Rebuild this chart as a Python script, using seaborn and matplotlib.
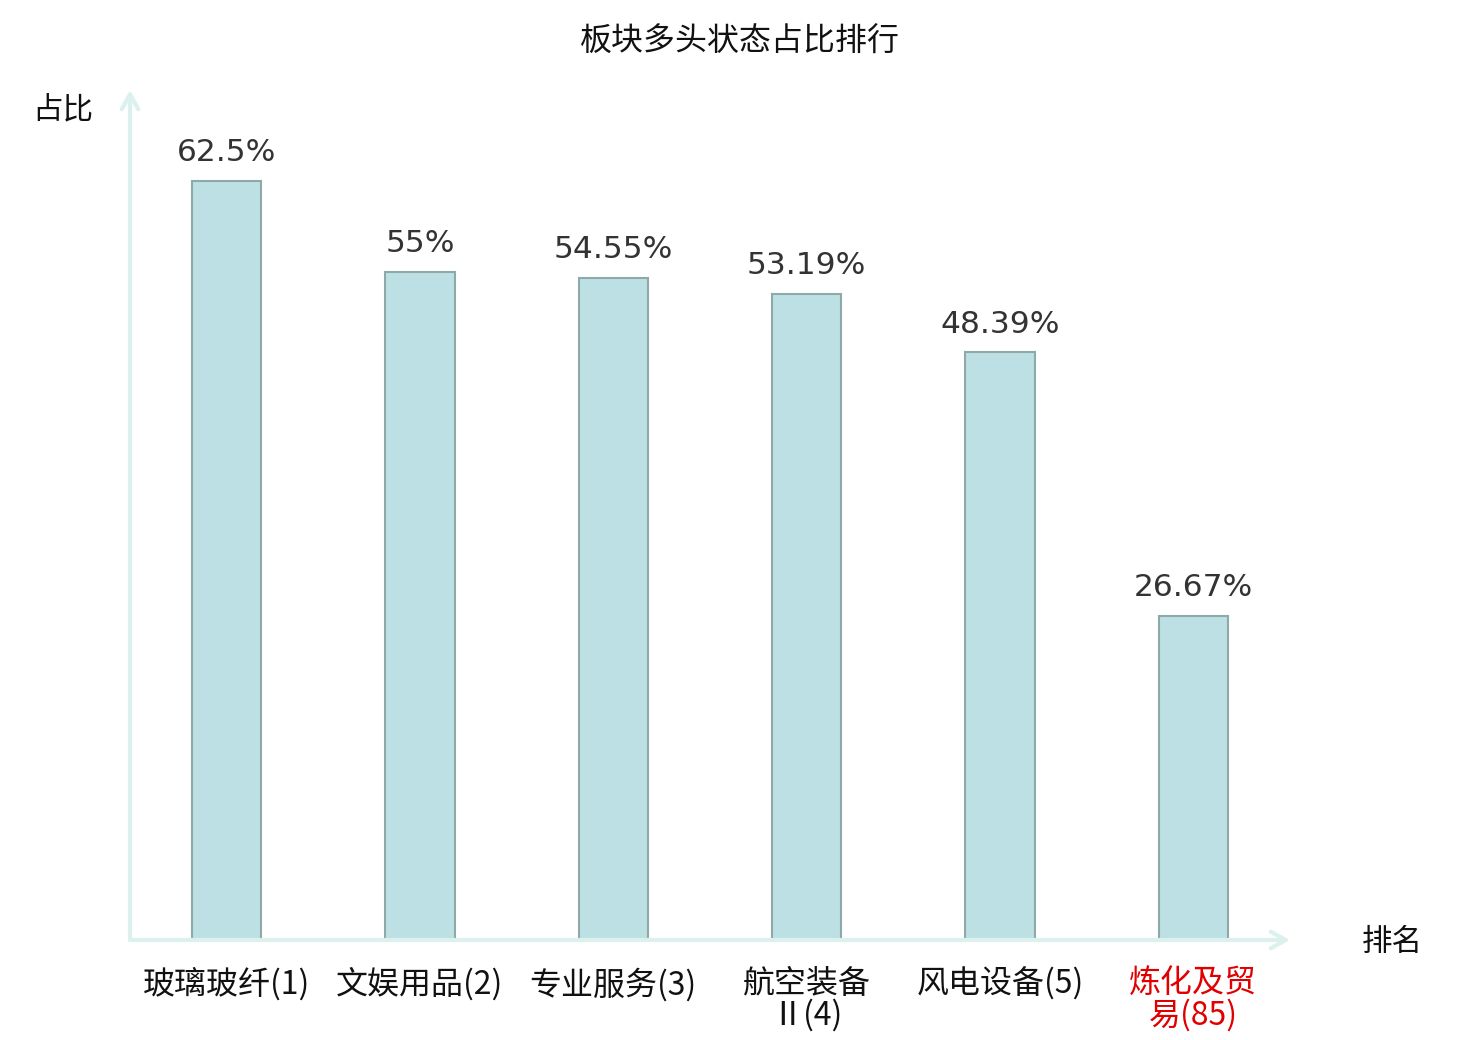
import pandas as pd
import matplotlib
matplotlib.use('Agg')
import matplotlib.pyplot as plt
import seaborn as sns

# данные графика
categories = ['玻璃玻纤(1)', '文娱用品(2)', '专业服务(3)', '航空装备\nⅡ(4)', '风电设备(5)', '炼化及贸\n易(85)']
values = [62.5, 55, 54.55, 53.19, 48.39, 26.67]
value_labels = ['62.5%', '55%', '54.55%', '53.19%', '48.39%', '26.67%']
label_colors = ['#111111', '#111111', '#111111', '#111111', '#111111', '#e00000']

df = pd.DataFrame({'cat': categories, 'val': values})

sns.set_theme(style='white')
plt.rcParams['font.family'] = ['Noto Sans CJK SC', 'DejaVu Sans']

fig = plt.figure(figsize=(14.8, 10.4), dpi=100)
ax = fig.add_axes([130 / 1480, 100 / 1040, 1160 / 1480, 850 / 1040])

sns.barplot(data=df, x='cat', y='val', color='#bce0e3', saturation=1,
            edgecolor='#8fa9a9', linewidth=1.5, width=0.36, ax=ax)

ax.set_xlim(-0.5, 5.5)
ax.set_ylim(0, 70)

# подписи значений
for i, (v, lab) in enumerate(zip(values, value_labels)):
    ax.annotate(lab, (i, v), xytext=(0, 10), textcoords='offset points',
                ha='center', va='bottom', fontsize=22.5, color='#333333',
                family='DejaVu Sans')

for s in ax.spines.values():
    s.set_visible(False)
ax.set_yticks([])
ax.set_xlabel('')
ax.set_ylabel('')
ax.tick_params(axis='x', length=0, pad=20, labelsize=23)
ax.set_xticks(range(len(categories)))
ax.set_xticklabels(categories, linespacing=0.95)
for t, c in zip(ax.get_xticklabels(), label_colors):
    t.set_color(c)

# оси со стрелками
arrow = dict(arrowstyle='->,head_length=0.9,head_width=0.5', color='#dcf1ee', lw=3,
             shrinkA=0, shrinkB=0)
ax.annotate('', xy=(0, 1), xytext=(0, 0), xycoords='axes fraction', arrowprops=arrow, annotation_clip=False)
ax.annotate('', xy=(1, 0), xytext=(0, 0), xycoords='axes fraction', arrowprops=arrow, annotation_clip=False)

fig.text(0.5, 1 - 42 / 1040, '板块多头状态占比排行', ha='center', va='center', fontsize=23, color='#111111')
fig.text(63 / 1480, 1 - 110 / 1040, '占比', ha='center', va='center', fontsize=22, color='#111111')
fig.text(1392 / 1480, 1 - 942 / 1040, '排名', ha='center', va='center', fontsize=22, color='#111111')

fig.savefig('out.png', dpi=100)
